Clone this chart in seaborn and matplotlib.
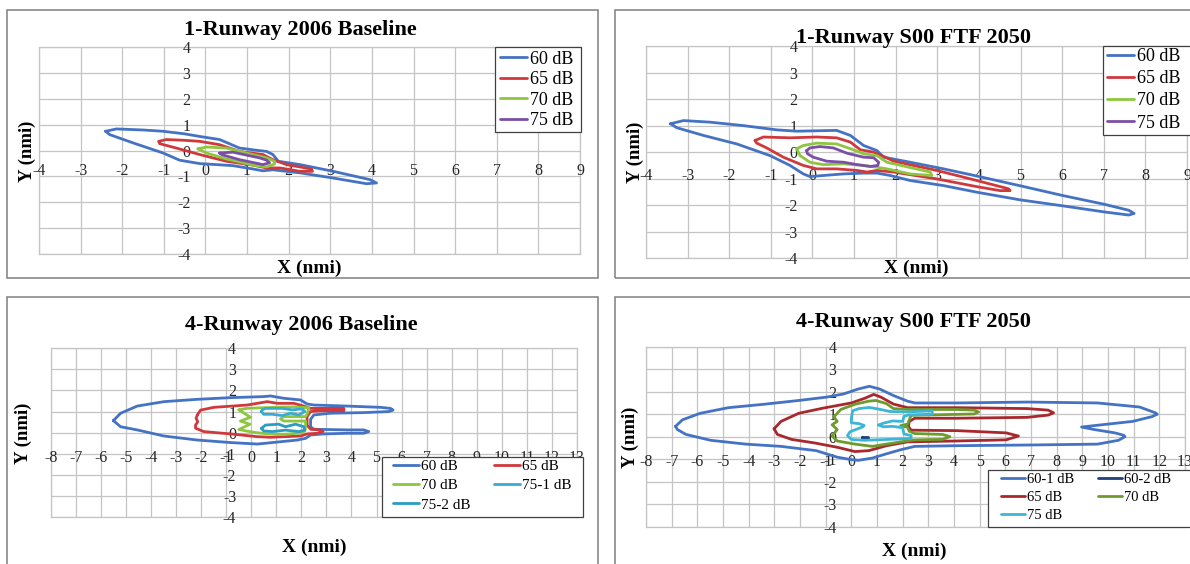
import matplotlib
matplotlib.use("Agg")
import matplotlib.pyplot as plt
import matplotlib.transforms as mtransforms
from matplotlib.patches import Rectangle
import seaborn as sns

# ---------------- data (nmi) ----------------
# Panel 1: 1-Runway 2006 Baseline
p1_60_x = [-2.4, -2.14, -1.5, -1.02, -0.5, -0.14, 0.34, 0.82, 1.2, 1.47, 1.62, 1.75, 2.27, 3.07, 3.95, 4.11,
           3.87, 3.07, 2.27, 1.62, 1.38, 1.14, 0.66, -0.14, -0.62, -1.02, -1.74, -2.3]
p1_60_y = [0.75, 0.84, 0.8, 0.75, 0.65, 0.55, 0.43, 0.1, 0.02, -0.03, -0.15, -0.41, -0.54, -0.8, -1.12, -1.25,
           -1.28, -1.06, -0.86, -0.74, -0.78, -0.71, -0.58, -0.5, -0.37, -0.09, 0.3, 0.62]
p1_65_x = [-1.12, -0.94, -0.5, -0.14, 0.34, 0.82, 1.38, 1.62, 1.95, 2.55, 2.57, 2.27, 1.79, 1.47, 1.14, 0.5,
           -0.14, -0.7, -1.1]
p1_65_y = [0.36, 0.43, 0.4, 0.36, 0.23, -0.03, -0.15, -0.35, -0.54, -0.71, -0.8, -0.8, -0.67, -0.67, -0.56,
           -0.41, -0.15, 0.1, 0.27]
p1_70_x = [-0.18, 0.02, 0.5, 0.98, 1.47, 1.66, 1.66, 1.47, 1.14, 0.5, 0.02]
p1_70_y = [0.07, 0.14, 0.1, -0.09, -0.28, -0.41, -0.52, -0.63, -0.56, -0.32, -0.09]
p1_75_x = [0.34, 0.66, 1.3, 1.47, 1.54, 1.38, 0.82, 0.4]
p1_75_y = [-0.09, -0.06, -0.28, -0.37, -0.47, -0.54, -0.35, -0.16]

# Panel 2: 1-Runway S00 FTF 2050
p2_60_x = [-3.41, -3.1, -2.46, -1.66, -0.86, -0.38, 0.58, 0.91, 1.23, 1.55, 1.71, 2.35, 3.15, 3.95, 5.0, 6.0,
           7.0, 7.6, 7.73, 7.6, 7.0, 6.0, 5.0, 3.95, 3.15, 2.35, 1.87, 1.55, 1.23, 0.75, 0.26, -0.06, -0.22,
           -0.54, -1.02, -1.82, -2.62, -3.26]
p2_60_y = [1.07, 1.19, 1.13, 1.0, 0.84, 0.79, 0.82, 0.63, 0.25, 0.06, -0.19, -0.38, -0.63, -0.9, -1.27, -1.63,
           -1.96, -2.19, -2.31, -2.37, -2.25, -2.02, -1.8, -1.51, -1.26, -1.07, -0.88, -0.79, -0.79, -0.82,
           -0.88, -0.92, -0.82, -0.5, -0.13, 0.31, 0.63, 0.92]
p2_65_x = [-1.38, -1.18, -0.54, 0.1, 0.58, 0.91, 1.15, 1.47, 1.71, 1.95, 2.99, 3.95, 4.71, 4.75, 4.51, 3.95,
           2.99, 1.95, 1.55, 1.31, 1.07, 0.58, 0.1, -0.22, -0.7, -1.1, -1.34]
p2_65_y = [0.44, 0.57, 0.54, 0.57, 0.54, 0.38, 0.09, 0.0, -0.16, -0.34, -0.69, -1.07, -1.38, -1.45, -1.45,
           -1.3, -1.01, -0.75, -0.69, -0.75, -0.69, -0.63, -0.63, -0.5, -0.19, 0.16, 0.34]
p2_70_x = [-0.38, -0.22, 0.1, 0.58, 0.91, 1.23, 1.55, 1.79, 2.83, 2.87, 2.35, 1.79, 1.55, 1.23, 0.75, 0.26,
           -0.06, -0.3]
p2_70_y = [0.13, 0.25, 0.34, 0.31, 0.13, -0.06, -0.13, -0.38, -0.75, -0.88, -0.82, -0.63, -0.57, -0.5, -0.44,
           -0.47, -0.38, -0.13]
p2_75_x = [-0.14, -0.06, 0.18, 0.5, 0.83, 1.23, 1.47, 1.59, 1.57, 1.39, 1.07, 0.75, 0.34, 0.02, -0.12]
p2_75_y = [0.06, 0.16, 0.21, 0.16, -0.04, -0.19, -0.21, -0.38, -0.5, -0.54, -0.47, -0.38, -0.34, -0.19, -0.06]

# Panel 3: 4-Runway 2006 Baseline
p3_60_x = [-5.5, -5.21, -4.55, -3.48, -2.15, -0.82, 0.51, 0.77, 1.3, 1.97, 2.23, 2.5, 3.83, 5.16, 5.56, 5.66,
           5.49, 4.49, 3.16, 2.5, 2.37, 2.37, 2.5, 3.83, 4.49, 4.69, 4.49, 3.83, 2.9, 2.37, 2.17, 1.84, 0.51,
           0.24, -0.82, -2.15, -3.48, -4.55, -5.21]
p3_60_y = [0.57, 0.92, 1.26, 1.47, 1.58, 1.66, 1.71, 1.74, 1.63, 1.55, 1.36, 1.31, 1.26, 1.2, 1.15, 1.07,
           1.0, 0.95, 0.92, 0.84, 0.63, 0.28, 0.16, 0.13, 0.13, 0.05, -0.03, -0.03, -0.06, -0.11, -0.27,
           -0.35, -0.51, -0.54, -0.47, -0.35, -0.16, 0.13, 0.28]
p3_65_x = [-2.15, -2.02, -1.49, -0.16, 0.64, 1.04, 1.7, 2.1, 2.37, 3.16, 3.7, 3.7, 2.77, 2.37, 2.23, 2.23,
           2.37, 2.77, 2.87, 2.63, 2.23, 1.97, 0.77, 0.24, -0.82, -1.89, -2.22, -2.22, -2.13, -2.2]
p3_65_y = [0.84, 1.07, 1.2, 1.31, 1.47, 1.39, 1.39, 1.26, 1.15, 1.15, 1.15, 1.04, 1.04, 1.0, 0.76, 0.36,
           0.16, 0.13, 0.05, -0.03, -0.06, -0.16, -0.22, -0.19, -0.06, 0.05, 0.21, 0.36, 0.52, 0.68]
p3_70_x = [-0.49, -0.2, 0.4, 1.0, 1.7, 2.3, 2.24, 2.17, 1.3, 1.17, 1.3, 2.17, 2.17, 2.14, 1.97, 1.3, 0.7,
           0.2, -0.2, -0.49, -0.05, -0.43, -0.03]
p3_70_y = [1.08, 1.15, 1.18, 1.2, 1.22, 1.18, 0.91, 0.76, 0.76, 0.65, 0.55, 0.55, 0.28, 0.07, -0.02, -0.08,
           -0.06, 0.0, 0.08, 0.15, 0.4, 0.55, 0.73]
p3_751_x = [0.41, 0.44, 0.57, 1.24, 1.64, 2.04, 2.14, 1.9, 1.57, 1.24, 0.84, 0.5]
p3_751_y = [1.0, 1.08, 1.15, 1.15, 1.08, 1.13, 1.0, 0.84, 0.92, 0.81, 0.87, 0.87]
p3_752_x = [0.41, 0.57, 1.1, 1.37, 1.77, 2.1, 2.14, 1.9, 1.37, 0.84, 0.5]
p3_752_y = [0.2, 0.36, 0.4, 0.28, 0.4, 0.28, 0.12, 0.05, 0.12, 0.05, 0.08]

# Panel 4: 4-Runway S00 FTF 2050
p4_601_x = [-6.85, -6.58, -5.89, -4.79, -3.42, -2.05, -0.96, -0.3, 0.27, 0.7, 1.1, 1.64, 2.19, 2.47, 4.11,
            6.85, 9.59, 11.23, 11.85, 11.92, 11.71, 10.96, 10.0, 8.97, 9.45, 10.27, 10.62, 10.66, 10.41, 9.59,
            6.85, 4.11, 2.47, 1.92, 1.37, 0.82, 0.27, 0.0, -0.55, -1.37, -2.74, -4.11, -5.48, -6.44, -6.78]
p4_601_y = [0.46, 0.75, 1.04, 1.29, 1.44, 1.61, 1.76, 1.9, 2.12, 2.24, 2.12, 1.83, 1.58, 1.5, 1.5, 1.54, 1.5,
            1.32, 1.06, 1.0, 0.89, 0.68, 0.56, 0.43, 0.32, 0.17, 0.06, 0.0, -0.16, -0.33, -0.37, -0.4, -0.43,
            -0.58, -0.76, -0.95, -1.05, -1.02, -0.91, -0.62, -0.43, -0.33, -0.16, 0.1, 0.32]
p4_602_x = [0.42, 0.64, 0.64, 0.42]
p4_602_y = [-0.02, -0.02, -0.06, -0.06]
p4_65_x = [-3.01, -2.74, -2.05, -1.1, 0.0, 0.55, 0.87, 1.15, 1.64, 2.19, 4.11, 6.85, 7.67, 7.88, 7.67, 6.85,
           4.11, 2.47, 2.26, 2.22, 2.33, 4.11, 6.03, 6.51, 6.03, 4.11, 2.19, 1.37, 0.68, 0.14, -0.55, -1.42,
           -2.33, -2.88]
p4_65_y = [0.35, 0.68, 1.04, 1.27, 1.5, 1.72, 1.88, 1.76, 1.45, 1.29, 1.29, 1.25, 1.18, 1.06, 0.96, 0.86,
           0.82, 0.82, 0.68, 0.46, 0.29, 0.27, 0.17, 0.03, -0.14, -0.19, -0.23, -0.4, -0.62, -0.66, -0.47,
           -0.28, -0.12, 0.1]
p4_70_x = [-0.68, -0.41, 0.14, 0.68, 0.96, 1.37, 1.64, 2.19, 4.11, 4.79, 4.96, 4.79, 2.74, 2.33, 2.26, 2.19,
           1.92, 2.19, 2.26, 2.47, 3.56, 3.84, 3.56, 2.47, 1.92, 1.37, 0.82, 0.14, -0.55, -0.75, -0.55, -0.75,
           -0.55]
p4_70_y = [0.88, 1.21, 1.44, 1.58, 1.61, 1.47, 1.25, 1.21, 1.21, 1.18, 1.1, 1.01, 0.96, 0.95, 0.75, 0.56,
           0.49, 0.42, 0.24, 0.14, 0.1, 0.0, -0.12, -0.14, -0.23, -0.33, -0.43, -0.33, -0.19, 0.03, 0.32,
           0.53, 0.68]
p4_75_x = [0.0, 0.05, 0.3, 0.7, 1.1, 1.5, 2.2, 3.15, 3.15, 2.2, 2.05, 2.0, 1.6, 1.25, 1.05, 1.25, 1.6, 2.0,
           2.05, 2.33, 2.33, 1.9, 1.2, 0.5, 0.0, -0.15, -0.05, 0.45, 0.5, 0.3, 0.0]
p4_75_y = [0.8, 1.15, 1.25, 1.3, 1.22, 1.12, 1.1, 1.15, 1.0, 0.96, 0.9, 0.68, 0.7, 0.6, 0.52, 0.44, 0.46, 0.4,
           0.12, 0.05, -0.08, -0.1, -0.13, -0.16, -0.12, 0.05, 0.22, 0.44, 0.5, 0.58, 0.62]

p1_labels = ["60 dB", "65 dB", "70 dB", "75 dB"]
p3_labels = ["60 dB", "65 dB", "70 dB", "75-1 dB", "75-2 dB"]
p4_labels = ["60-1 dB", "60-2 dB", "65 dB", "70 dB", "75 dB"]
titles = ["1-Runway 2006 Baseline", "1-Runway S00 FTF 2050", "4-Runway 2006 Baseline", "4-Runway S00 FTF 2050"]
small_xticks = list(range(-4, 10))
wide_xticks = list(range(-8, 14))
yticks = list(range(-4, 5))

# ---------------- style ----------------
sns.set_theme(style="white")
plt.rcParams["font.family"] = ["Liberation Serif", "DejaVu Serif"]

BLUE = "#4472C4"
RED = "#D0393C"
LGREEN = "#8DC63F"
PURPLE = "#7B4FA6"
CYAN1 = "#3AABD0"
CYAN2 = "#2C9CC2"
DRED = "#A8282D"
OLIVE = "#6F9A2E"
CYAN4 = "#3DB5D5"
DBLUE = "#1F3F7F"
GRID = "#C4C4C4"
TICK_C = "#262626"
LW = 2.0
TICK_FS = 11.5

W, H = 1190, 564
fig = plt.figure(figsize=(W / 100, H / 100), dpi=100)
fig.patch.set_facecolor("white")


def fx(x):
    return x / W


def fy(y):
    return 1 - y / H


def frame(l, t, r, b):
    fig.add_artist(Rectangle((fx(l), fy(b)), (r - l) / W, (b - t) / H, transform=fig.transFigure,
                             fill=False, edgecolor="#7F7F7F", lw=1.1, zorder=-1))


def make_axes(l, t, r, b, xticks):
    ax = fig.add_axes([fx(l), fy(b), (r - l) / W, (b - t) / H])
    ax.set_xlim(xticks[0], xticks[-1])
    ax.set_ylim(-4, 4)
    ax.set_xticks(xticks)
    ax.set_yticks(yticks)
    ax.grid(True, color=GRID, lw=0.9)
    ax.tick_params(length=0, labelbottom=False, labelleft=False)
    for s in ax.spines.values():
        s.set_color(GRID)
        s.set_linewidth(0.9)
    ax.set_axisbelow(True)
    ax.set_xlabel("")
    ax.set_ylabel("")
    return ax


def tick_labels(ax, xticks, xoff):
    trx = mtransforms.offset_copy(ax.transData, fig=fig, x=0, y=-xoff, units="dots")
    for v in xticks:
        ax.text(v, 0, str(v), transform=trx, ha="center", va="baseline", fontsize=TICK_FS,
                color=TICK_C, zorder=3, clip_on=False)
    try_ = mtransforms.offset_copy(ax.transData, fig=fig, x=-15, y=0, units="dots")
    for v in yticks:
        ax.text(0, v, str(v), transform=try_, ha="right", va="center_baseline", fontsize=TICK_FS,
                color=TICK_C, zorder=3, clip_on=False)


def contour(ax, xs, ys, color, label):
    cx = list(xs) + [xs[0]]
    cy = list(ys) + [ys[0]]
    sns.lineplot(x=cx, y=cy, sort=False, estimator=None, color=color, lw=LW, ax=ax, legend=False)
    line = ax.lines[-1]
    line.set_label(label)
    line.set_solid_joinstyle("round")
    line.set_solid_capstyle("round")
    line.set_zorder(4)
    return line


def texts(title_xy, xl_xy, yl_xy, title):
    fig.text(fx(title_xy[0]), fy(title_xy[1]), title, ha="center", va="center", fontsize=16,
             fontweight="bold", color="black")
    fig.text(fx(xl_xy[0]), fy(xl_xy[1]), "X (nmi)", ha="center", va="center", fontsize=14,
             fontweight="bold", color="black")
    fig.text(fx(yl_xy[0]), fy(yl_xy[1]), "Y (nmi)", ha="center", va="center", fontsize=13.5,
             fontweight="bold", color="black", rotation=90)


def legend(handles, labels, box, anchor, fs, ncol=1, hl=1.5, htp=0.15, ls=0.3, cs=1.5):
    l, t, r, b = box
    fig.add_artist(Rectangle((fx(l), fy(b)), (r - l) / W, (b - t) / H, transform=fig.transFigure,
                             facecolor="white", edgecolor="#404040", lw=0.9, zorder=8))
    lg = fig.legend(handles, labels, loc="upper left", bbox_to_anchor=(fx(anchor[0]), fy(anchor[1])),
                    bbox_transform=fig.transFigure, frameon=False, borderpad=0, borderaxespad=0,
                    handlelength=hl, handletextpad=htp, labelspacing=ls, ncol=ncol, columnspacing=cs,
                    prop={"family": ["Liberation Serif"], "size": fs})
    lg.set_zorder(9)
    for t_ in lg.get_texts():
        t_.set_color("black")
    return lg


# ---------------- frames ----------------
frame(7, 10, 598, 278)
frame(615, 10, 1196, 278)
frame(7, 297, 598, 570)
frame(615, 297, 1196, 570)

# ---------------- panel 1 ----------------
ax1 = make_axes(39, 47.3, 580, 254, small_xticks)
tick_labels(ax1, small_xticks, 24)
h1 = [contour(ax1, p1_60_x, p1_60_y, BLUE, p1_labels[0]),
      contour(ax1, p1_65_x, p1_65_y, RED, p1_labels[1]),
      contour(ax1, p1_70_x, p1_70_y, LGREEN, p1_labels[2]),
      contour(ax1, p1_75_x, p1_75_y, PURPLE, p1_labels[3])]
texts((300, 30), (309, 268), (27, 151), titles[0])
legend(h1, p1_labels, (495, 47.3, 581, 132), (500, 50.5), 13, ls=0.2)

# ---------------- panel 2 ----------------
ax2 = make_axes(646, 46, 1187, 258.3, small_xticks)
tick_labels(ax2, small_xticks, 28)
h2 = [contour(ax2, p2_60_x, p2_60_y, BLUE, p1_labels[0]),
      contour(ax2, p2_65_x, p2_65_y, RED, p1_labels[1]),
      contour(ax2, p2_70_x, p2_70_y, LGREEN, p1_labels[2]),
      contour(ax2, p2_75_x, p2_75_y, PURPLE, p1_labels[3])]
texts((914, 38), (916, 268), (635, 152), titles[1])
legend(h2, p1_labels, (1102.6, 46, 1196, 134.8), (1107, 48), 13, ls=0.29)

# ---------------- panel 3 ----------------
ax3 = make_axes(50.7, 348.3, 577, 517, wide_xticks)
tick_labels(ax3, wide_xticks, 29)
h3 = [contour(ax3, p3_60_x, p3_60_y, BLUE, p3_labels[0]),
      contour(ax3, p3_65_x, p3_65_y, RED, p3_labels[1]),
      contour(ax3, p3_70_x, p3_70_y, LGREEN, p3_labels[2]),
      contour(ax3, p3_751_x, p3_751_y, CYAN1, p3_labels[3]),
      contour(ax3, p3_752_x, p3_752_y, CYAN2, p3_labels[4])]
texts((301, 325), (314, 547), (23, 433), titles[2])
order3 = [0, 2, 4, 1, 3]
legend([h3[i] for i in order3], [p3_labels[i] for i in order3], (382.3, 456.5, 583, 517),
       (392.8, 459.5), 11, ncol=2, hl=1.74, htp=0.13, ls=0.36, cs=1.5)

# ---------------- panel 4 ----------------
ax4 = make_axes(646, 346.7, 1185, 526.7, wide_xticks)
tick_labels(ax4, wide_xticks, 29)
h4 = [contour(ax4, p4_601_x, p4_601_y, BLUE, p4_labels[0]),
      contour(ax4, p4_602_x, p4_602_y, DBLUE, p4_labels[1]),
      contour(ax4, p4_65_x, p4_65_y, DRED, p4_labels[2]),
      contour(ax4, p4_70_x, p4_70_y, OLIVE, p4_labels[3]),
      contour(ax4, p4_75_x, p4_75_y, CYAN4, p4_labels[4])]
texts((913, 322), (914, 551), (630, 437), titles[3])
order4 = [0, 2, 4, 1, 3]
legend([h4[i] for i in order4], [p4_labels[i] for i in order4], (988, 470, 1196, 526.7),
       (1000.8, 472.5), 10.5, ncol=2, hl=1.63, htp=0.14, ls=0.34, cs=1.64)

fig.savefig("out.png", dpi=100, facecolor="white")
